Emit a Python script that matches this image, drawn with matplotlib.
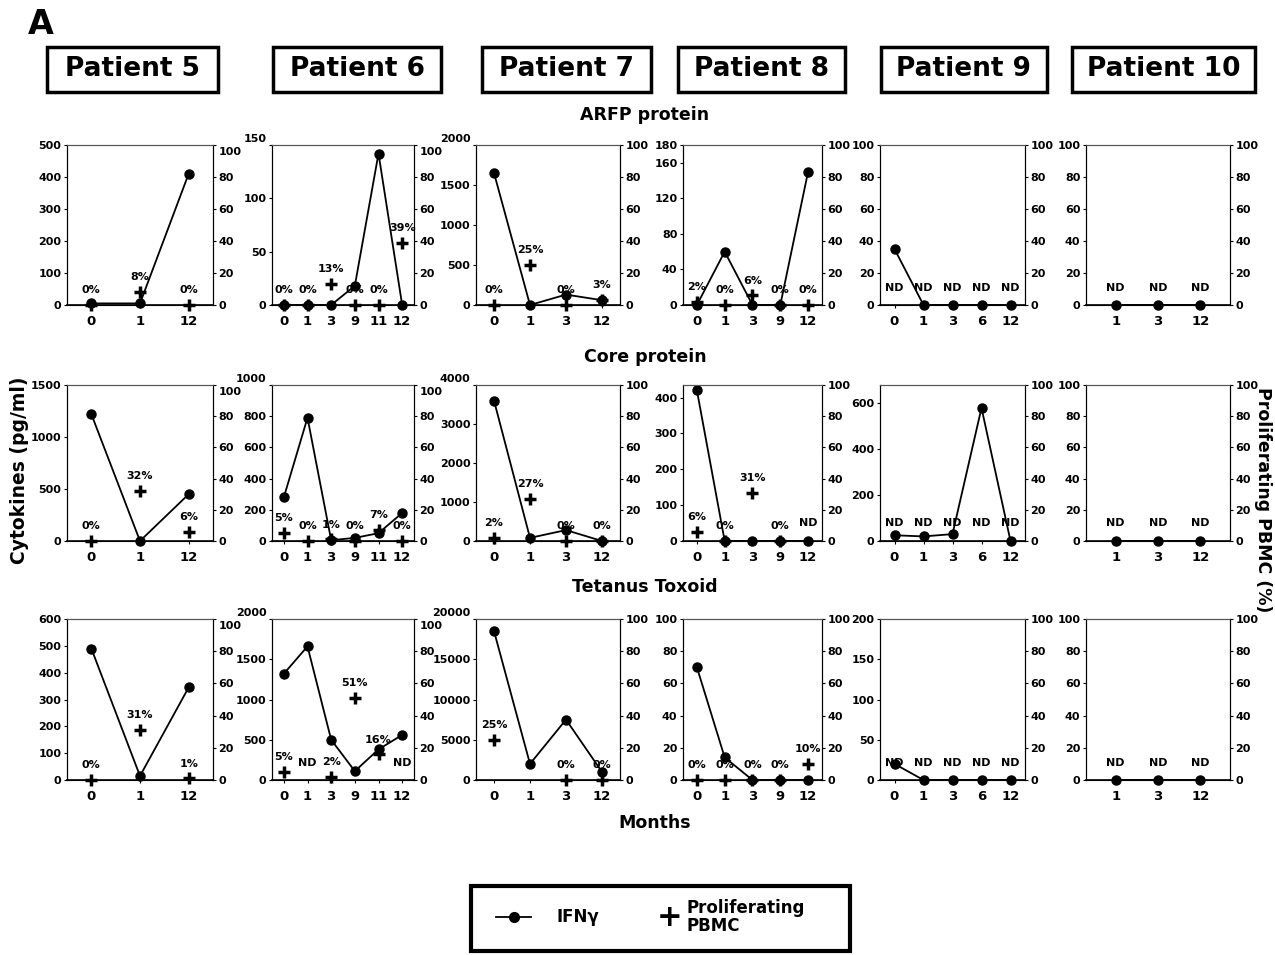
import numpy as np
import matplotlib
matplotlib.use("Agg")
import matplotlib.pyplot as plt
from matplotlib.patches import Rectangle
from matplotlib.lines import Line2D
from matplotlib.transforms import ScaledTranslation

plt.rcParams['font.family'] = ['DejaVu Sans']
plt.rcParams['font.weight'] = 'bold'

W, H = 1275, 955

patients = ["Patient 5", "Patient 6", "Patient 7", "Patient 8", "Patient 9", "Patient 10"]
antigens = ["ARFP protein", "Core protein", "Tetanus Toxoid"]

months = [
    [0, 1, 12],
    [0, 1, 3, 9, 11, 12],
    [0, 1, 3, 12],
    [0, 1, 3, 9, 12],
    [0, 1, 3, 6, 12],
    [1, 3, 12],
]

# IFN-gamma (pg/ml), one list per row, per patient
ifn_arfp = [[5, 5, 410], [0, 0, 0, 18, 142, 0], [1650, 0, 130, 60],
            [0, 60, 0, 0, 150], [35, 0, 0, 0, 0], [0, 0, 0]]
ifn_core = [[1220, 0, 450], [280, 790, 5, 20, 50, 180], [3600, 80, 280, 0],
            [420, 0, 0, 0, 0], [25, 20, 30, 580, 0], [0, 0, 0]]
ifn_tt = [[490, 15, 345], [1320, 1660, 500, 110, 380, 560], [18500, 2000, 7500, 1000],
          [70, 14, 0, 0, 0], [20, 0, 0, 0, 0], [0, 0, 0]]

# proliferating PBMC (%), 'ND' = not done, None = not shown
nd5 = ['ND'] * 5
nd3 = ['ND'] * 3
prol_arfp = [[0, 8, 0], [0, 0, 13, 0, 0, 39], [0, 25, 0, 3], [2, 0, 6, 0, 0], nd5, nd3]
prol_core = [[0, 32, 6], [5, 0, 1, 0, 7, 0], [2, 27, 0, 0], [6, 0, 31, 0, 'ND'], nd5, nd3]
prol_tt = [[0, 31, 1], [5, 'ND', 2, 51, 16, 'ND'], [25, None, 0, 0], [0, 0, 0, 0, 10], nd5, nd3]

# left axis limits / ticks
ylims = [
    [(500, [0, 100, 200, 300, 400, 500]), (150, [0, 50, 100, 150]), (2000, [0, 500, 1000, 1500, 2000]),
     (180, [0, 40, 80, 120, 160, 180]), (100, [0, 20, 40, 60, 80, 100]), (100, [0, 20, 40, 60, 80, 100])],
    [(1500, [0, 500, 1000, 1500]), (1000, [0, 200, 400, 600, 800, 1000]), (4000, [0, 1000, 2000, 3000, 4000]),
     (435, [0, 100, 200, 300, 400]), (680, [0, 200, 400, 600]), (100, [0, 20, 40, 60, 80, 100])],
    [(600, [0, 100, 200, 300, 400, 500, 600]), (2000, [0, 500, 1000, 1500, 2000]),
     (20000, [0, 5000, 10000, 15000, 20000]), (100, [0, 20, 40, 60, 80, 100]),
     (200, [0, 50, 100, 150, 200]), (100, [0, 20, 40, 60, 80, 100])],
]

ifn_rows = [ifn_arfp, ifn_core, ifn_tt]
prol_rows = [prol_arfp, prol_core, prol_tt]

col_x = [(67, 213), (272, 414), (476, 620), (683, 822), (880, 1025), (1086, 1230)]
row_y = [(145, 305), (385, 541), (619, 780)]
head_x = [(47, 218), (273, 441), (482, 651), (678, 845), (881, 1047), (1072, 1255)]

fig = plt.figure(figsize=(W / 100, H / 100), dpi=100)


def fx(x):
    return x / W


def fy(y):
    return 1 - y / H


for r in range(3):
    for c in range(6):
        x0, x1 = col_x[c]
        y0, y1 = row_y[r]
        ax = fig.add_axes([fx(x0), fy(y1), fx(x1 - x0), (y1 - y0) / H])
        ax2 = ax.twinx()
        m = months[c]
        n = len(m)
        pos = np.arange(n)
        top, ticks = ylims[r][c]
        ax.plot(pos, ifn_rows[r][c], color='black', lw=1.3, marker='o', ms=6.5, zorder=3, clip_on=False)
        ax.set_ylim(0, top)
        ax.set_yticks(ticks)
        pad = 0.7 if c == 5 else 0.5
        ax.set_xlim(-pad, n - 1 + pad)
        ax.set_xticks(pos)
        ax.set_xticklabels([str(v) for v in m])
        ax2.set_ylim(0, 100)
        ax2.set_yticks([0, 20, 40, 60, 80, 100])
        for i, v in enumerate(prol_rows[r][c]):
            if v is None:
                continue
            if v == 'ND':
                ax2.annotate('ND', (i, 0), xytext=(0, 9), textcoords='offset points',
                             ha='center', va='bottom', fontsize=8)
            else:
                ax2.plot(i, v, marker='+', color='black', ms=9, mew=2.5, ls='none', zorder=4, clip_on=False)
                ax2.annotate(f"{v}%", (i, v), xytext=(0, 7), textcoords='offset points',
                             ha='center', va='bottom', fontsize=8)
        for a in (ax, ax2):
            a.tick_params(labelsize=8, length=2.5, width=0.8, pad=1.5)
            a.spines['top'].set_linestyle((0, (1, 1)))
            a.spines['top'].set_color('#555555')
            a.spines['top'].set_linewidth(0.8)
        ax.spines['left'].set_linewidth(0.8)
        ax.spines['bottom'].set_linewidth(1.2)
        ax2.spines['right'].set_linewidth(0.8)
        ax2.spines['right'].set_linestyle((0, (1, 1)))
        ax.tick_params(axis='x', labelsize=9.5, pad=5)

        # the wide top labels sit raised, as in the original figure
        if c in (1, 2):
            lab = ax.get_yticklabels()[-1]
            lab.set_transform(lab.get_transform() + ScaledTranslation(0, 5 / 72, fig.dpi_scale_trans))
        if c in (0, 1):
            lab = ax2.get_yticklabels()[-1]
            lab.set_transform(lab.get_transform() + ScaledTranslation(0, -4 / 72, fig.dpi_scale_trans))

# patient header boxes
for c, name in enumerate(patients):
    x0, x1 = head_x[c]
    fig.patches.append(Rectangle((fx(x0), fy(92)), fx(x1 - x0), (92 - 47) / H,
                                 transform=fig.transFigure, fill=False, lw=2.5, ec='black'))
    fig.text(fx((x0 + x1) / 2), fy(69.5), name, ha='center', va='center', fontsize=19, fontweight='bold')

fig.text(fx(28), fy(24), "A", ha='left', va='center', fontsize=24, fontweight='bold')

row_title_y = [115, 357, 587]
for r, t in enumerate(antigens):
    fig.text(fx(645), fy(row_title_y[r]), t, ha='center', va='center', fontsize=12.5, fontweight='bold')

fig.text(fx(655), fy(823), "Months", ha='center', va='center', fontsize=12.5, fontweight='bold')
fig.text(fx(20), fy(470), "Cytokines (pg/ml)", rotation=90, ha='center', va='center',
         fontsize=13.5, fontweight='bold')
fig.text(fx(1263), fy(500), "Proliferating PBMC (%)", rotation=-90, ha='center', va='center',
         fontsize=12.5, fontweight='bold')

# legend box
fig.patches.append(Rectangle((fx(471), fy(951)), fx(850 - 471), (951 - 886) / H,
                             transform=fig.transFigure, fill=False, lw=3, ec='black'))
fig.lines.append(Line2D([fx(496), fx(531)], [fy(917), fy(917)], transform=fig.transFigure,
                        color='black', lw=1.3))
fig.lines.append(Line2D([fx(513.5)], [fy(917)], transform=fig.transFigure,
                        color='black', marker='o', ms=7, ls='none'))
fig.text(fx(556), fy(917), "IFN\u03b3", ha='left', va='center', fontsize=12, fontweight='bold')
fig.text(fx(670), fy(917), "+", ha='center', va='center', fontsize=22, fontweight='bold')
fig.text(fx(686), fy(917), "Proliferating\nPBMC", ha='left', va='center', fontsize=12,
         fontweight='bold', linespacing=1.0)

fig.savefig("out.png", dpi=100)
